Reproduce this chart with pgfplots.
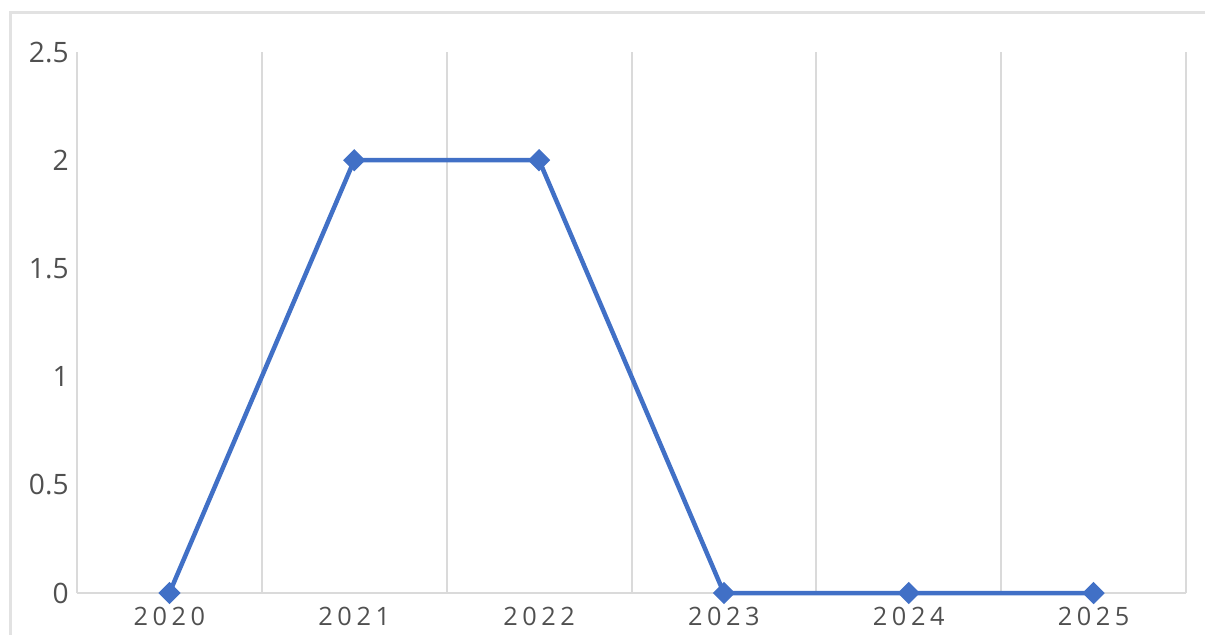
\documentclass[border=0pt]{standalone}
\usepackage{pgfplots}
\pgfplotsset{compat=1.18}
\usepackage{fontspec}
\setmainfont{Open Sans}
\newfontfamily\spaced[LetterSpace=18]{Open Sans}

\definecolor{lineblue}{HTML}{4170C6}
\definecolor{gridgray}{HTML}{DADADA}
\definecolor{framegray}{HTML}{E2E2E2}
\definecolor{textgray}{HTML}{505050}

\begin{document}
\begin{tikzpicture}
  % page size: 1205 x 634 px at 0.1 mm per px
  \useasboundingbox (-0.77,-0.41) rectangle (11.28,5.93);
  \draw[framegray, line width=0.3mm] (-0.67,-0.6) -- (-0.67,5.81) -- (11.5,5.81);

  \begin{axis}[
      at={(0,0)}, anchor=south west,
      scale only axis,
      width=11.09cm, height=5.41cm,
      xmin=-0.5, xmax=5.5,
      ymin=0, ymax=2.5,
      xtick={0,1,2,3,4,5},
      xticklabels={2020,2021,2022,2023,2024,2025},
      minor xtick={-0.5,0.5,1.5,2.5,3.5,4.5,5.5},
      ytick={0,0.5,1,1.5,2,2.5},
      yticklabels={0,0.5,1,1.5,2,2.5},
      xminorgrids=true,
      minor grid style={gridgray, line width=0.2mm},
      axis x line=bottom, axis y line=left,
      axis line style={gridgray, line width=0.2mm, -},
      major tick length=0pt, minor tick length=0pt,
      tick label style={textgray},
      xticklabel style={font=\spaced\fontsize{7.2}{8}\selectfont, yshift=-0.2mm},
      yticklabel style={font=\fontsize{8}{9}\selectfont, xshift=0.4mm},
      clip=false,
    ]
    \addplot[lineblue, line width=0.45mm, mark=square*,
      mark size=1.6pt, mark options={rotate=45, solid, fill=lineblue}]
      coordinates {(0,0) (1,2) (2,2) (3,0) (4,0) (5,0)};
  \end{axis}
\end{tikzpicture}
\end{document}
